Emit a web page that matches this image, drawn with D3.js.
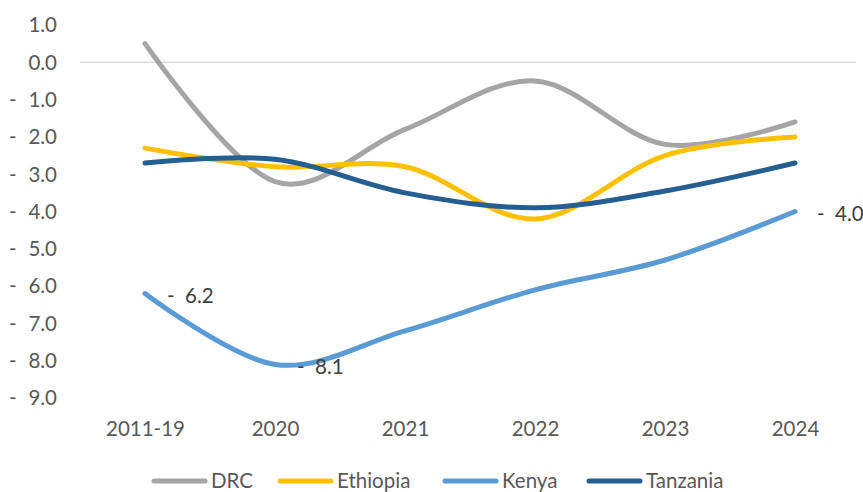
<!DOCTYPE html>
<html>
<head>
<meta charset="utf-8">
<script src="https://cdn.jsdelivr.net/npm/d3@7"></script>
<style>
  html, body { margin: 0; padding: 0; background: #fff; }
  svg { display: block; font-family: Lato, "Open Sans", sans-serif; }
</style>
</head>
<body>
<svg id="chart" width="863" height="492"></svg>
<script>
// Categories and series values
const categories = ["2011-19", "2020", "2021", "2022", "2023", "2024"];
const drc      = [0.5, -3.2, -1.8, -0.5, -2.2, -1.6];
const ethiopia = [-2.3, -2.8, -2.8, -4.2, -2.5, -2.0];
const kenya    = [-6.2, -8.1, -7.2, -6.1, -5.3, -4.0];
const tanzania = [-2.7, -2.6, -3.5, -3.9, -3.45, -2.7];
const yTicks = [1, 0, -1, -2, -3, -4, -5, -6, -7, -8, -9];
// Kenya values carrying a data label
const kenyaLabelled = [0, 1, 5];

const series = [
  { name: "DRC", values: drc, color: "#A5A5A5" },
  { name: "Ethiopia", values: ethiopia, color: "#FFC000" },
  { name: "Kenya", values: kenya, color: "#5B9BD5" },
  { name: "Tanzania", values: tanzania, color: "#255E91" }
];

const svg = d3.select("#chart");
const plotLeft = 80, plotRight = 860, plotTop = 25, plotBottom = 398;
const fontSize = 20.5;

const x = d3.scalePoint().domain(categories).range([plotLeft, plotRight]).padding(0.5);
const y = d3.scaleLinear().domain([-9, 1]).range([plotBottom, plotTop]);

const textColor = "#595959";
// Accounting style: dash at the left, magnitude right-aligned
const fmt = d3.format(".1f");

// Zero gridline
svg.append("line")
  .attr("x1", plotLeft).attr("x2", plotRight - 4)
  .attr("y1", y(0)).attr("y2", y(0))
  .attr("stroke", "#D9D9D9").attr("stroke-width", 1.3);

// Y axis labels
const yAxis = svg.append("g");
yTicks.forEach(t => {
  const g = yAxis.append("g").attr("transform", `translate(0,${y(t)})`);
  if (t < 0) {
    g.append("text").attr("x", 9).attr("dy", "0.36em")
      .attr("font-size", fontSize).attr("fill", textColor).text("-");
  }
  g.append("text").attr("x", 57).attr("dy", "0.36em")
    .attr("text-anchor", "end").attr("font-size", fontSize).attr("fill", textColor)
    .text(fmt(Math.abs(t)));
});

// X axis labels
const xAxis = d3.axisBottom(x).tickSize(0).tickPadding(0);
const xg = svg.append("g").attr("transform", `translate(0,${plotBottom + 31})`).call(xAxis);
xg.select(".domain").remove();
xg.selectAll("text").attr("font-size", fontSize).attr("fill", textColor)
  .attr("font-family", "Lato, 'Open Sans', sans-serif").attr("dy", "0.36em");

// Smoothed lines
const line = d3.line()
  .x((d, i) => x(categories[i]))
  .y(d => y(d))
  .curve(d3.curveCardinal.tension(0));

svg.append("g").selectAll("path").data(series).join("path")
  .attr("d", s => line(s.values))
  .attr("fill", "none")
  .attr("stroke", s => s.color)
  .attr("stroke-width", 5)
  .attr("stroke-linecap", "round")
  .attr("stroke-linejoin", "round");

// Kenya data labels
const labels = svg.append("g");
kenyaLabelled.forEach(i => {
  const px = x(categories[i]) + 22, py = y(kenya[i]) + 2;
  labels.append("text").attr("x", px).attr("y", py).attr("dy", "0.36em")
    .attr("font-size", fontSize).attr("fill", "#404040").text("-");
  labels.append("text").attr("x", px + 18).attr("y", py).attr("dy", "0.36em")
    .attr("font-size", fontSize).attr("fill", "#404040").text(fmt(Math.abs(kenya[i])));
});

// Legend
const legendItems = [
  { s: series[0], x: 152 },
  { s: series[1], x: 278 },
  { s: series[2], x: 443 },
  { s: series[3], x: 587 }
];
const ly = 481;
const legend = svg.append("g");
legendItems.forEach(it => {
  legend.append("line")
    .attr("x1", it.x + 2).attr("x2", it.x + 53)
    .attr("y1", ly).attr("y2", ly)
    .attr("stroke", it.s.color).attr("stroke-width", 5).attr("stroke-linecap", "round");
  legend.append("text").attr("x", it.x + 59).attr("y", ly).attr("dy", "0.36em")
    .attr("font-size", fontSize).attr("fill", textColor).text(it.s.name);
});
</script>
</body>
</html>
